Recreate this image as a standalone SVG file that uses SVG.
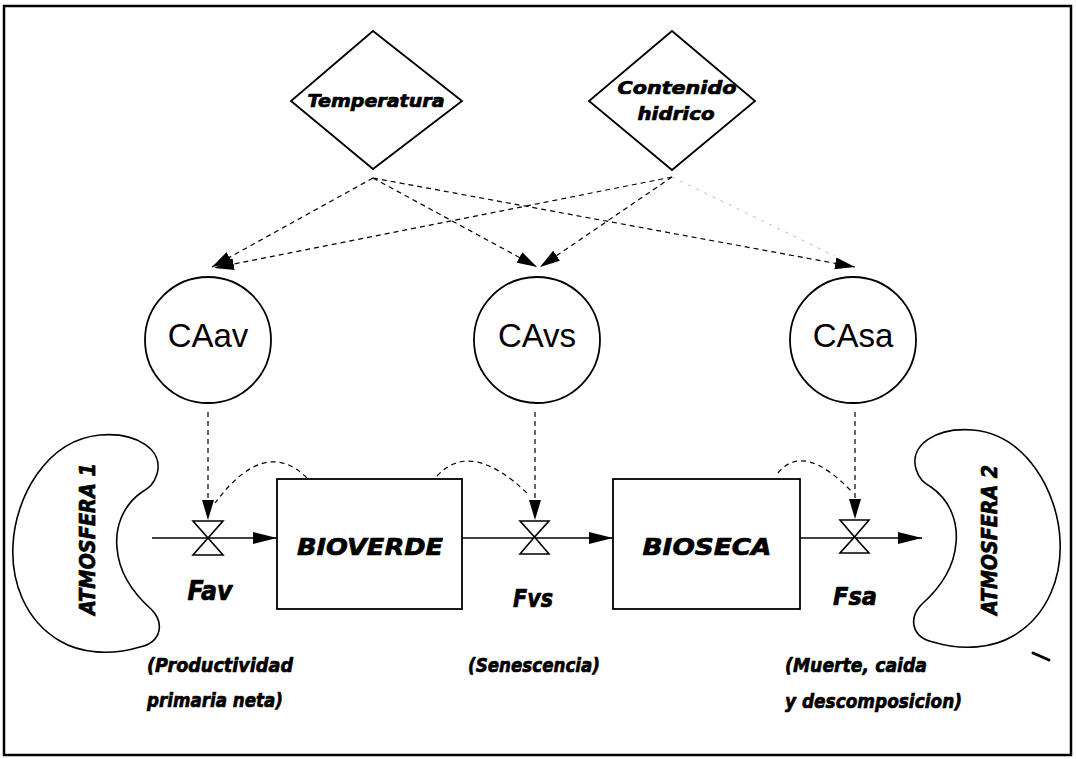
<svg xmlns="http://www.w3.org/2000/svg" width="1076" height="759" viewBox="0 0 1076 759">
<style>
  .frame{fill:none;stroke:#000;stroke-width:2.5}
  .shape{fill:#fff;stroke:#000;stroke-width:1.8}
  .bean{fill:#fff;stroke:#000;stroke-width:1.6}
  .dash{fill:none;stroke:#000;stroke-width:1.2;stroke-dasharray:5 4}
  .faint{fill:none;stroke:#bbb;stroke-width:1;stroke-dasharray:3 6}
  .flow{fill:none;stroke:#000;stroke-width:1.4}
  .valve{fill:#fff;stroke:#000;stroke-width:1.6}
  .bi{font-family:"DejaVu Sans","Liberation Sans",Arial,sans-serif;font-weight:bold;font-style:italic;fill:#000;stroke:#000;stroke-width:0.7;stroke-linejoin:round}
  .reg{font-family:"Liberation Sans",Arial,sans-serif;font-size:33px;fill:#000}
</style>
<defs>
  <marker id="ah" viewBox="0 0 20 12" refX="20" refY="6" markerWidth="20" markerHeight="12" markerUnits="userSpaceOnUse" orient="auto">
    <path d="M0,0 L20,6 L0,12 Z" fill="#000"/>
  </marker>
  <marker id="fa" viewBox="0 0 24 12" refX="24" refY="6" markerWidth="24" markerHeight="12" markerUnits="userSpaceOnUse" orient="auto">
    <path d="M0,0 L24,6 L0,12 Z" fill="#000"/>
  </marker>
  <path id="beanPath" d="M100 435 C137 432,164 450,157 474 C154 484,149 488,142 492 C122 506,115 528,117 548 C119 575,135 595,152 610 C164 623,162 642,140 647 C110 656,80 653,60 641 C24 620,11 580,13 545 C15 498,46 440,100 435 Z"/>
</defs>

<rect class="frame" x="4" y="6" width="1067" height="749"/>

<g id="connectors">
  <line class="dash" x1="373" y1="178" x2="212" y2="267" marker-end="url(#ah)"/>
  <line class="dash" x1="672" y1="177" x2="214" y2="268" marker-end="url(#ah)"/>
  <line class="dash" x1="373" y1="178" x2="537" y2="267" marker-end="url(#ah)"/>
  <line class="dash" x1="672" y1="177" x2="540" y2="267" marker-end="url(#ah)"/>
  <line class="dash" x1="373" y1="178" x2="855" y2="267" marker-end="url(#ah)"/>
  <line class="faint" x1="672" y1="177" x2="835" y2="256"/>
  <line class="dash" x1="208" y1="412" x2="208" y2="520" marker-end="url(#ah)"/>
  <line class="dash" x1="535" y1="412" x2="535" y2="520" marker-end="url(#ah)"/>
  <line class="dash" x1="855" y1="412" x2="855" y2="519" marker-end="url(#ah)"/>
  <path class="dash" d="M307 478 Q265 436 215 503"/>
  <path class="dash" d="M437 476 Q471 439 528 494"/>
  <path class="dash" d="M778 473 Q804 441 853 493"/>
  <line class="flow" x1="152" y1="538" x2="277" y2="538" marker-end="url(#fa)"/>
  <line class="flow" x1="462" y1="538" x2="613" y2="538" marker-end="url(#fa)"/>
  <line class="flow" x1="800" y1="538" x2="922" y2="538" marker-end="url(#fa)"/>
</g>

<g id="temperatura">
  <polygon class="shape" points="373,31 462,101 373,169 291,101"/>
  <text class="bi" x="376" y="107" font-size="17" text-anchor="middle" textLength="137" lengthAdjust="spacingAndGlyphs">Temperatura</text>
</g>
<g id="contenido">
  <polygon class="shape" points="672,31 755,101 672,170 589,101"/>
  <text class="bi" x="677" y="94" font-size="17" text-anchor="middle" textLength="119" lengthAdjust="spacingAndGlyphs">Contenido</text>
  <text class="bi" x="676" y="120" font-size="17" text-anchor="middle" textLength="77" lengthAdjust="spacingAndGlyphs">hidrico</text>
</g>

<g id="CAav">
  <circle class="shape" cx="208" cy="340" r="63"/>
  <text class="reg" x="208" y="347" text-anchor="middle">CAav</text>
</g>
<g id="CAvs">
  <circle class="shape" cx="537" cy="340" r="63"/>
  <text class="reg" x="537" y="347" text-anchor="middle">CAvs</text>
</g>
<g id="CAsa">
  <circle class="shape" cx="853" cy="340" r="63"/>
  <text class="reg" x="853" y="347" text-anchor="middle">CAsa</text>
</g>

<g id="atmosfera1">
  <use href="#beanPath" class="bean"/>
  <text class="bi" font-size="21" text-anchor="middle" transform="translate(95,539) rotate(-90)" textLength="152" lengthAdjust="spacingAndGlyphs">ATMOSFERA 1</text>
</g>
<g id="atmosfera2">
  <use href="#beanPath" class="bean" transform="translate(1073,-5) scale(-1,1)"/>
  <text class="bi" font-size="21" text-anchor="middle" transform="translate(997,540) rotate(-90)" textLength="150" lengthAdjust="spacingAndGlyphs">ATMOSFERA 2</text>
</g>

<g id="bioverde">
  <rect class="shape" x="277" y="479" width="185" height="130"/>
  <text class="bi" x="370" y="555" font-size="23" text-anchor="middle" textLength="146" lengthAdjust="spacingAndGlyphs">BIOVERDE</text>
</g>
<g id="bioseca">
  <rect class="shape" x="613" y="479" width="187" height="130"/>
  <text class="bi" x="707" y="555" font-size="23" text-anchor="middle" textLength="129" lengthAdjust="spacingAndGlyphs">BIOSECA</text>
</g>

<g id="Fav">
  <polygon class="valve" points="193,521 223,521 208,538"/>
  <polygon class="valve" points="193,555 223,555 208,538"/>
  <text class="bi" x="210" y="600" font-size="26" text-anchor="middle" textLength="45" lengthAdjust="spacingAndGlyphs">Fav</text>
  <text class="bi" x="147" y="672" font-size="20" textLength="146" lengthAdjust="spacingAndGlyphs">(Productividad</text>
  <text class="bi" x="147" y="707" font-size="20" textLength="136" lengthAdjust="spacingAndGlyphs">primaria neta)</text>
</g>
<g id="Fvs">
  <polygon class="valve" points="520,521 549,521 534.5,537"/>
  <polygon class="valve" points="520,554 549,554 534.5,537"/>
  <text class="bi" x="533" y="607" font-size="24" text-anchor="middle" textLength="40" lengthAdjust="spacingAndGlyphs">Fvs</text>
  <text class="bi" x="468" y="672" font-size="20" textLength="132" lengthAdjust="spacingAndGlyphs">(Senescencia)</text>
</g>
<g id="Fsa">
  <polygon class="valve" points="840,520 869,520 854.5,537"/>
  <polygon class="valve" points="840,553 869,553 854.5,537"/>
  <text class="bi" x="855" y="605" font-size="24" text-anchor="middle" textLength="44" lengthAdjust="spacingAndGlyphs">Fsa</text>
  <text class="bi" x="785" y="672" font-size="20" textLength="142" lengthAdjust="spacingAndGlyphs">(Muerte, caida</text>
  <text class="bi" x="785" y="708" font-size="20" textLength="177" lengthAdjust="spacingAndGlyphs">y descomposicion)</text>
</g>

<line x1="1033" y1="653" x2="1049" y2="660" stroke="#000" stroke-width="3" stroke-linecap="round"/>
</svg>
